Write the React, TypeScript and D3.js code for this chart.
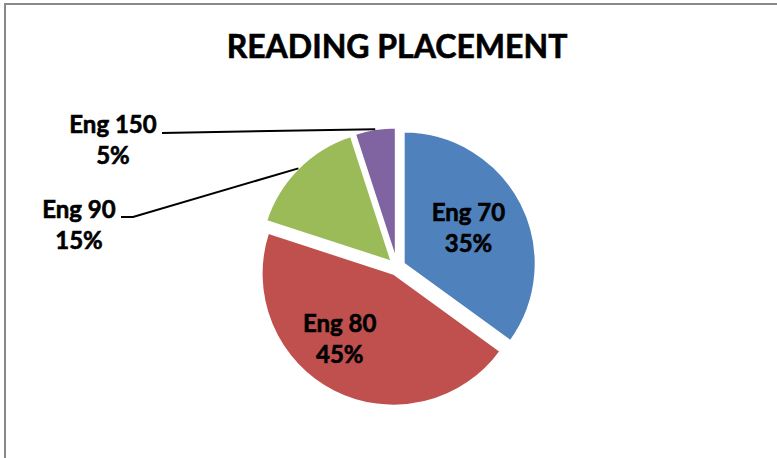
import React from "react";
import * as d3 from "d3";

const categories = ["Eng 70", "Eng 80", "Eng 90", "Eng 150"];
const values = [35, 45, 15, 5];
const percentLabels = ["35%", "45%", "15%", "5%"];
const colors = ["#4F81BD", "#C0504D", "#9BBB59", "#8064A2"];
const title = "READING PLACEMENT";

const W = 777;
const H = 458;
const cx = 397;
const cy = 267;
const R = 132;
const explode = 7.5;
const FONT = "Lato, 'Open Sans', sans-serif";

// label layout: inside labels use radial fraction + angle nudge; outside labels use an anchor point
const labelLayout: Record<string, any> = {
  "Eng 70": { inside: true, frac: 0.56, nudge: -0.03 },
  "Eng 80": { inside: true, frac: 0.64, nudge: 0.22 },
  "Eng 90": { inside: false, x: 79, y: 218, lineStart: [121, 217], elbow: [133, 217] },
  "Eng 150": { inside: false, x: 113, y: 133, lineStart: [162, 133], elbow: null },
};

const textStyle = { stroke: "#000", strokeWidth: 0.6, paintOrder: "stroke" } as any;

export default function App() {
  const pie = d3.pie<number>().sort(null).value((d) => d);
  const arcs = pie(values);
  const arc = d3.arc<d3.PieArcDatum<number>>().innerRadius(0).outerRadius(R);

  return (
    <svg
      width={W}
      height={H}
      style={{ position: "absolute", left: 0, top: 0, background: "#fff" }}
      fontFamily={FONT}
    >
      <rect x={0} y={0} width={W} height={H} fill="#fff" />
      <rect x={5} y={4} width={W + 10} height={H + 10} fill="none" stroke="#898989" strokeWidth={2} />
      <text x={cx} y={58} textAnchor="middle" fontSize={32} fontWeight={700} fill="#000" style={textStyle}>
        {title}
      </text>
      {arcs.map((a, i) => {
        const mid = (a.startAngle + a.endAngle) / 2;
        const ox = cx + explode * Math.sin(mid);
        const oy = cy - explode * Math.cos(mid);
        return (
          <g key={categories[i]} transform={`translate(${ox},${oy})`}>
            <path d={arc(a) || ""} fill={colors[i]} stroke="#fff" strokeWidth={2} />
          </g>
        );
      })}
      {arcs.map((a, i) => {
        const name = categories[i];
        const lay = labelLayout[name];
        const mid = (a.startAngle + a.endAngle) / 2;
        const ox = cx + explode * Math.sin(mid);
        const oy = cy - explode * Math.cos(mid);
        if (lay.inside) {
          const ang = mid + lay.nudge;
          const lx = ox + R * lay.frac * Math.sin(ang);
          const ly = oy - R * lay.frac * Math.cos(ang);
          return (
            <g key={"l" + name}>
              <text x={lx} y={ly - 7} textAnchor="middle" fontSize={24} fontWeight={700} fill="#000" style={textStyle}>
                {name}
              </text>
              <text x={lx} y={ly + 24} textAnchor="middle" fontSize={24} fontWeight={700} fill="#000" style={textStyle}>
                {percentLabels[i]}
              </text>
            </g>
          );
        }
        const px = ox + R * Math.sin(mid);
        const py = oy - R * Math.cos(mid);
        const pts: [number, number][] = [lay.lineStart];
        if (lay.elbow) pts.push(lay.elbow);
        pts.push([px, py]);
        const line = d3.line()(pts) || "";
        return (
          <g key={"l" + name}>
            <path d={line} fill="none" stroke="#000" strokeWidth={2} />
            <text x={lay.x} y={lay.y} textAnchor="middle" fontSize={24} fontWeight={700} fill="#000" style={textStyle}>
              {name}
            </text>
            <text x={lay.x} y={lay.y + 31} textAnchor="middle" fontSize={24} fontWeight={700} fill="#000" style={textStyle}>
              {percentLabels[i]}
            </text>
          </g>
        );
      })}
    </svg>
  );
}
